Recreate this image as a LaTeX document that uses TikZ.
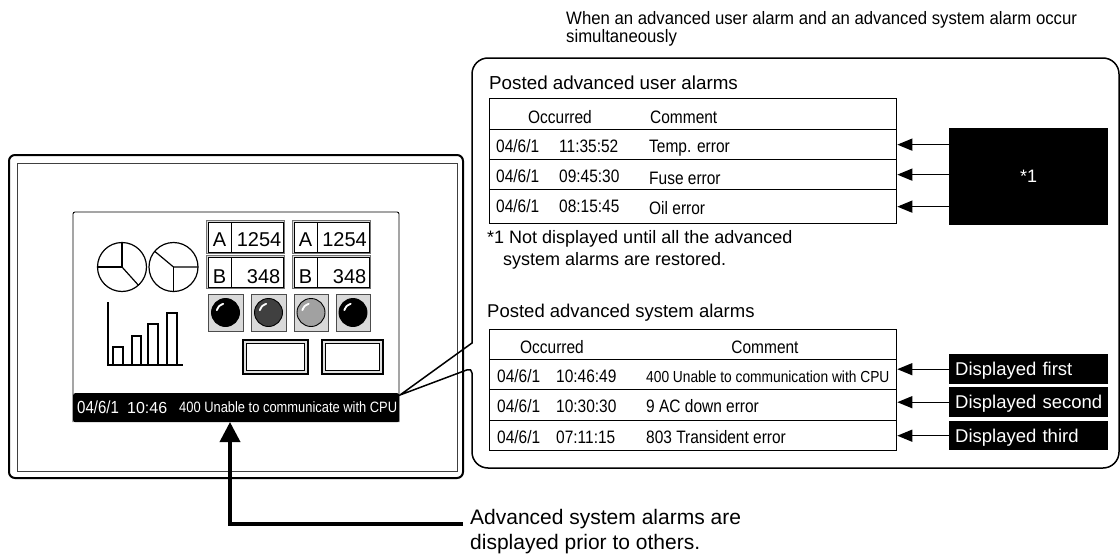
\documentclass[tikz,border=0pt]{standalone}
\usepackage{fontspec}
\setmainfont{Liberation Sans}
\newfontfamily\narrowfont{Liberation Sans}[FakeStretch=0.86]
\newfontfamily\headfont{Liberation Sans}[FakeStretch=0.93]
\usetikzlibrary{arrows.meta}
\begin{document}
\begin{tikzpicture}[x=1pt,y=-1pt,
  lbl/.style={inner sep=0pt, anchor=base west, font=\fontsize{18}{22}\selectfont},
  cell/.style={inner sep=0pt, anchor=base west, font=\narrowfont\fontsize{18}{22}\selectfont},
  headcell/.style={cell, anchor=base},
  rowbox/.style={draw, line width=1.3pt, inner sep=0pt, anchor=north west, minimum width=407pt},
  blackbox/.style={fill=black, text=white, inner sep=0pt, anchor=north west, minimum width=159pt},
  tagbox/.style={blackbox, minimum height=30pt, text width=147pt, inner xsep=6pt, align=left,
    text height=13pt, text depth=0pt, font=\fontsize{18.5}{22}\selectfont},
  thinarrow/.style={line width=1.3pt, -{Triangle[length=15pt,width=12pt]}},
  bigarrow/.style={line width=3.6pt, -{Triangle[length=20pt,width=20pt]}},
  lamp/.style={fill=black!15, draw=black!70, line width=0.8pt},
  numframe/.style={fill=black!15, draw=black!55, line width=0.6pt},
  numcell/.style={fill=white, draw=black, line width=1pt},
  numtxt/.style={inner sep=0pt, font=\fontsize{20}{22}\selectfont},
]
\fill[white] (0,0) rectangle (1120,554);
\useasboundingbox (0,0) rectangle (1120,554);

% ---------- operator panel ----------
\draw[line width=2pt, rounded corners=6pt] (9,155) rectangle (463,478);
\draw[line width=0.8pt, draw=black!75] (17,163) rectangle (457,471);

% screen
\draw[line width=0.9pt, rounded corners=2pt] (73,422) -- (73,212) -- (399,212) -- (399,422);
\node[fill=black, inner sep=0pt, minimum width=326pt, minimum height=29pt, anchor=north west,
  rounded corners=2pt] (bar) at (73,393) {};
\node[inner sep=0pt, anchor=base west, text=white, font=\narrowfont\fontsize{17.5}{20}\selectfont]
  (bardate) at (77,413) {04/6/1};
\node[inner sep=0pt, anchor=base west, text=white, font=\fontsize{16}{20}\selectfont]
  (bartime) at (127,413) {10:46};
\node[inner sep=0pt, anchor=base west, text=white, font=\narrowfont\fontsize{15}{18}\selectfont]
  (barmsg) at (179,412) {400 Unable to communicate with CPU};

% pie charts
\draw[line width=1.2pt] (122,267) circle[radius=24.5pt];
\draw[line width=1.2pt] (97.5,267) -- (122,267) -- (122,242.5);
\draw[line width=1.2pt] (122,267) -- (138.4,285.2);
\draw[line width=1.2pt] (173.5,267) circle[radius=24.5pt];
\draw[line width=1.2pt] (154.7,251.3) -- (173.5,267) -- (198,267);
\draw[line width=1.2pt] (173.5,267) -- (173.5,291.5);

% bar chart
\draw[line width=1.3pt] (108,302) -- (108,365) -- (183,365);
\draw[line width=1.3pt] (113,365) -- (113,347) -- (123,347) -- (123,365);
\draw[line width=1.3pt] (132,365) -- (132,336) -- (141,336) -- (141,365);
\draw[line width=1.3pt] (148,365) -- (148,324) -- (158,324) -- (158,365);
\draw[line width=1.3pt] (167,365) -- (167,313) -- (177,313) -- (177,365);

% numeric displays
\foreach \xa/\xd/\xb in {208/231/283, 294/317/369} {
  \foreach \ya/\yb in {222/252, 257/287} {
    \filldraw[numframe] (\xa-1.5,\ya-1.5) rectangle (\xb+1.5,\yb+1.5);
    \filldraw[numcell] (\xa,\ya) rectangle (\xb,\yb);
    \draw[line width=1pt] (\xd,\ya) -- (\xd,\yb);
  }
}
\node[numtxt, anchor=base] (nA1) at (219.5,246.5) {A};
\node[numtxt, anchor=base east] (nV1) at (281.5,246.5) {1254};
\node[numtxt, anchor=base] (nB1) at (219.5,283) {B};
\node[numtxt, anchor=base east] (nW1) at (280.5,283) {348};
\node[numtxt, anchor=base] (nA2) at (305.5,246.5) {A};
\node[numtxt, anchor=base east] (nV2) at (367,246.5) {1254};
\node[numtxt, anchor=base] (nB2) at (305.5,283) {B};
\node[numtxt, anchor=base east] (nW2) at (366.5,283) {348};

% lamps
\foreach \xa/\xb/\col in {208/243/black, 251/286/black!75, 294/328/black!37, 336/370/black} {
  \filldraw[lamp] (\xa,294) rectangle (\xb,331);
  \pgfmathsetmacro\cx{(\xa+\xb)/2}
  \filldraw[fill=\col, draw=black, line width=0.9pt] (\cx,312.5) circle[radius=14pt];
  \draw[white, line width=1.8pt, line cap=round]
    plot[smooth] coordinates {(\cx-2.3,303.8) (\cx-6.4,306.1) (\cx-8.7,310.2)};
}

% push buttons
\foreach \xa/\xb in {243/308, 322/383} {
  \filldraw[fill=black!12, draw=black, line width=1.2pt] (\xa,340) rectangle (\xb,374);
  \filldraw[fill=white, draw=black, line width=1.2pt] (\xa+3.5,343.5) rectangle (\xb-3.5,370.5);
}

% ---------- balloon ----------
\draw[line width=1.5pt] (400,395) -- (472,343) [rounded corners=16pt] -- (472,58) -- (1119,58)
  -- (1119,468) -- (472,468) [rounded corners=5pt] -- (472,368) [sharp corners] -- cycle;

\node[lbl, font=\headfont\fontsize{18}{22}\selectfont] (head1) at (566,24)
  {When an advanced user alarm and an advanced system alarm occur};
\node[lbl, font=\headfont\fontsize{18}{22}\selectfont] (head2) at (566,42) {simultaneously};

% advanced user alarms
\node[lbl, font=\fontsize{18.8}{22}\selectfont] (utitle) at (489,89) {Posted advanced user alarms};
\node[rowbox, minimum height=31pt] (u0) at (489,98) {};
\node[rowbox, minimum height=30pt] (u1) at (489,129) {};
\node[rowbox, minimum height=30pt] (u2) at (489,159) {};
\node[rowbox, minimum height=34pt] (u3) at (489,189) {};
\node[headcell] (uocc) at (560,123) {Occurred};
\node[cell] (ucom) at (650,123) {Comment};
\node[cell] (ud1) at (496,152) {04/6/1};
\node[cell] (ut1) at (559,152) {11:35:52};
\node[cell] (uc1) at (649,152) {Temp. error};
\node[cell] (ud2) at (496,182) {04/6/1};
\node[cell] (ut2) at (559,182) {09:45:30};
\node[cell] (uc2) at (649,184.5) {Fuse error};
\node[cell] (ud3) at (496,212) {04/6/1};
\node[cell] (ut3) at (559,212) {08:15:45};
\node[cell] (uc3) at (649,214.5) {Oil error};

\node[blackbox, minimum height=97pt, font=\fontsize{18}{22}\selectfont] (star) at (949,128) {*1};
\foreach \r in {u1,u2,u3}
  \draw[thinarrow] (star.west |- \r.east) -- (\r.east);

\node[lbl] (note1) at (487,243) {*1 Not displayed until all the advanced};
\node[lbl] (note2) at (503,265) {system alarms are restored.};

% advanced system alarms
\node[lbl, font=\fontsize{18.5}{22}\selectfont] (stitle) at (487,317) {Posted advanced system alarms};
\node[rowbox, minimum height=30pt] (s0) at (489,329) {};
\node[rowbox, minimum height=30pt] (s1) at (489,359) {};
\node[rowbox, minimum height=31pt] (s2) at (489,389) {};
\node[rowbox, minimum height=30pt] (s3) at (489,420) {};
\node[headcell] (socc) at (552,353) {Occurred};
\node[headcell] (scom) at (765,353) {Comment};
\node[cell] (sd1) at (497,382) {04/6/1};
\node[cell] (st1) at (556,382) {10:46:49};
\node[cell, font=\narrowfont\fontsize{16}{20}\selectfont] (sc1) at (646,382) {400 Unable to communication with CPU};
\node[cell] (sd2) at (497,412) {04/6/1};
\node[cell] (st2) at (556,412) {10:30:30};
\node[cell] (sc2) at (646,412) {9 AC down error};
\node[cell] (sd3) at (497,443) {04/6/1};
\node[cell] (st3) at (556,443) {07:11:15};
\node[cell] (sc3) at (646,443) {803 Transident error};

\node[tagbox] (first) at (949,354) {\mbox{Displayed first}};
\node[tagbox] (second) at (949,387) {\mbox{Displayed second}};
\node[tagbox, minimum height=29pt] (third) at (949,421) {\mbox{Displayed third}};
\draw[thinarrow] (first.west) -- (first.west -| s1.east);
\draw[thinarrow] (second.west) -- (second.west -| s2.east);
\draw[thinarrow] (third.west) -- (third.west -| s3.east);

% ---------- priority note ----------
\node[lbl, font=\fontsize{21}{25}\selectfont] (adv1) at (470,524) {Advanced system alarms are};
\node[lbl, font=\fontsize{21}{25}\selectfont] (adv2) at (470,549) {displayed prior to others.};
\coordinate (tip) at (230,422);
\draw[bigarrow, shorten <=7pt] (adv1.base west) -| (tip);
\end{tikzpicture}
\end{document}
